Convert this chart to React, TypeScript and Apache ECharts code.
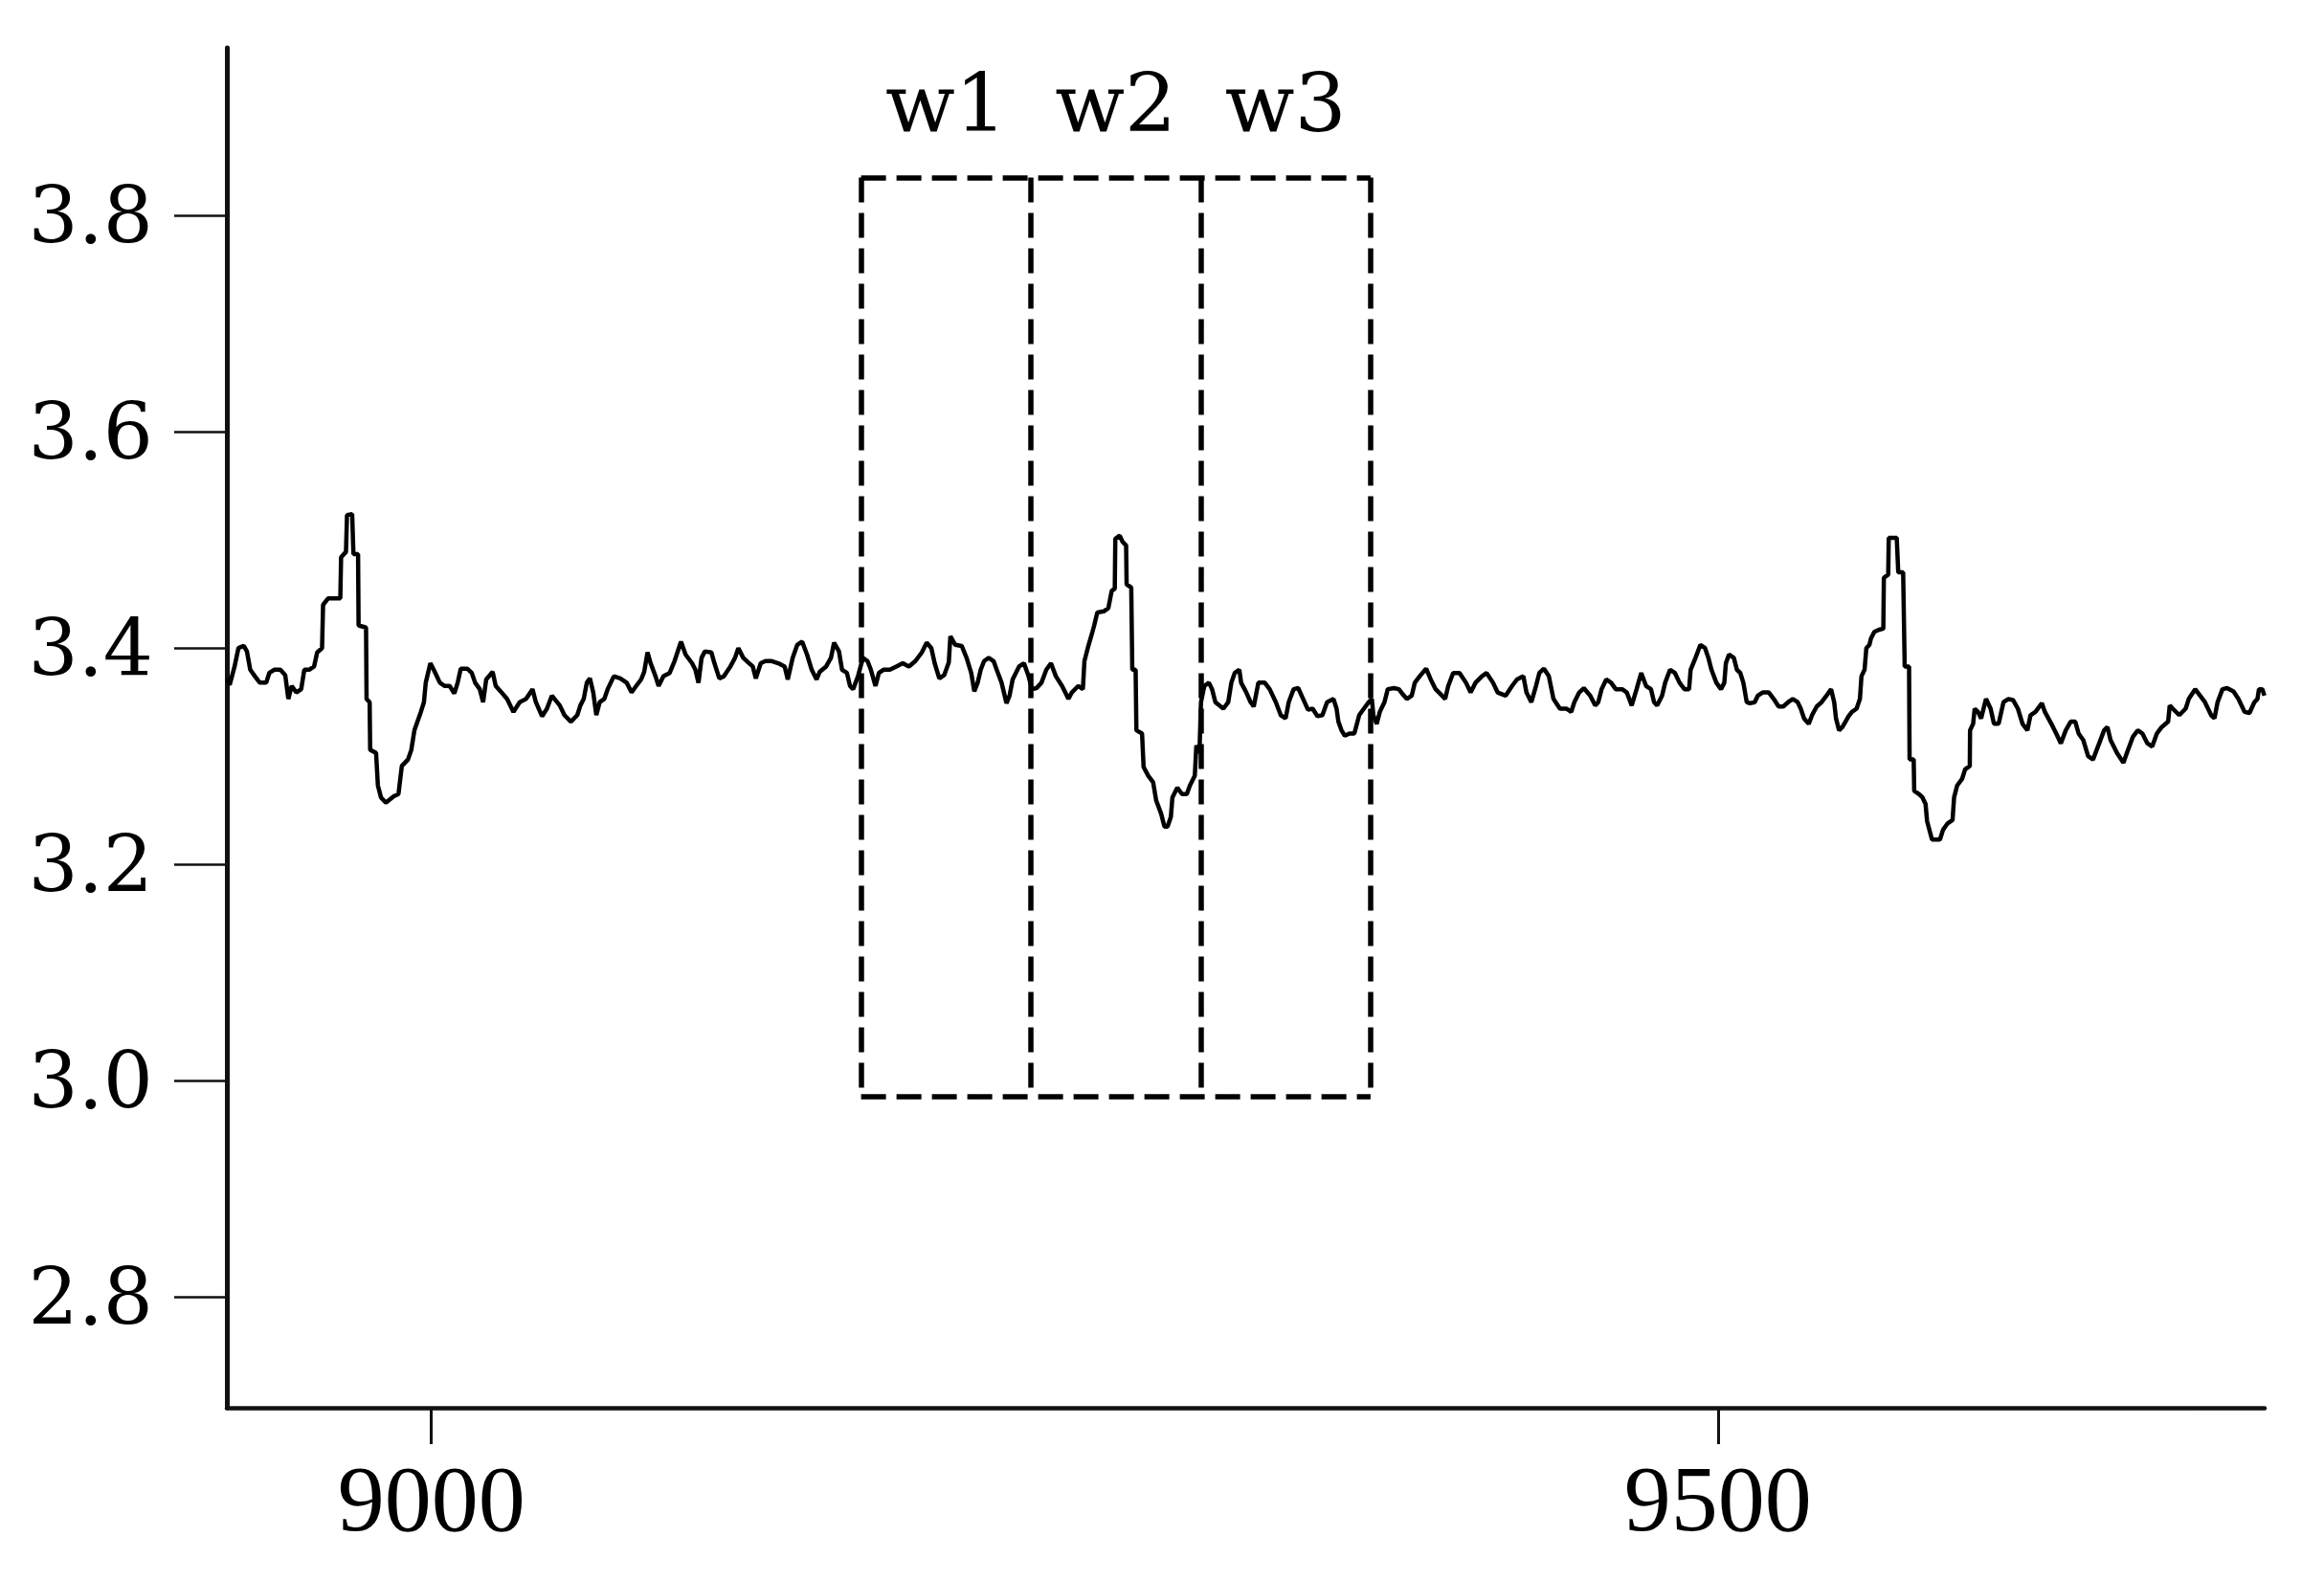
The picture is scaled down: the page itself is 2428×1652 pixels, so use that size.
import React, { useEffect, useRef } from "react";
import * as echarts from "echarts";

// signal trace: [sample index, value]
const signal: [number, number][] = [
  [8920.6, 3.372], [8921.6, 3.366], [8923.5, 3.383], [8925.0, 3.4], [8927.1, 3.402], [8928.3, 3.397],
  [8929.6, 3.38], [8931.4, 3.374], [8933.3, 3.368], [8935.8, 3.368], [8937.0, 3.377], [8938.9, 3.38],
  [8941.3, 3.38], [8943.2, 3.375], [8944.4, 3.353], [8945.7, 3.365], [8947.5, 3.359], [8949.4, 3.362],
  [8950.6, 3.38], [8952.5, 3.38], [8954.4, 3.383], [8955.6, 3.396], [8957.5, 3.4], [8957.9, 3.44],
  [8959.9, 3.446], [8964.6, 3.446], [8964.9, 3.484], [8966.8, 3.489], [8967.2, 3.523], [8969.2, 3.524],
  [8969.7, 3.487], [8971.5, 3.487], [8971.7, 3.421], [8974.6, 3.419], [8974.8, 3.353], [8976.0, 3.35],
  [8976.2, 3.306], [8978.5, 3.303], [8979.2, 3.273], [8980.4, 3.262], [8982.3, 3.257], [8985.4, 3.263],
  [8987.2, 3.265], [8988.5, 3.291], [8990.9, 3.297], [8992.2, 3.306], [8993.4, 3.324], [8995.9, 3.341],
  [8997.1, 3.35], [8997.8, 3.368], [8999.6, 3.386], [9000.9, 3.38], [9003.3, 3.368], [9005.2, 3.365],
  [9007.1, 3.365], [9008.9, 3.358], [9010.2, 3.368], [9011.4, 3.381], [9013.9, 3.381], [9015.7, 3.377],
  [9017.0, 3.368], [9018.8, 3.362], [9020.1, 3.35], [9021.3, 3.371], [9023.8, 3.378], [9025.0, 3.365],
  [9026.9, 3.36], [9029.4, 3.353], [9031.9, 3.341], [9034.3, 3.35], [9036.8, 3.353], [9039.3, 3.362],
  [9040.6, 3.35], [9043.0, 3.337], [9044.9, 3.344], [9046.8, 3.356], [9049.9, 3.347], [9051.7, 3.338],
  [9054.2, 3.332], [9056.7, 3.338], [9057.9, 3.347], [9059.2, 3.353], [9060.4, 3.368], [9061.6, 3.372],
  [9062.9, 3.359], [9064.1, 3.338], [9065.4, 3.35], [9067.2, 3.353], [9068.5, 3.362], [9070.9, 3.374],
  [9073.4, 3.372], [9075.9, 3.368], [9077.8, 3.359], [9079.6, 3.365], [9081.5, 3.371], [9082.7, 3.378],
  [9084.0, 3.396], [9085.2, 3.386], [9087.1, 3.374], [9088.3, 3.365], [9090.2, 3.374], [9092.6, 3.377],
  [9094.5, 3.388], [9097.0, 3.406], [9098.8, 3.394], [9101.3, 3.386], [9102.6, 3.38], [9103.8, 3.368],
  [9105.0, 3.391], [9106.3, 3.397], [9108.8, 3.396], [9110.0, 3.386], [9111.9, 3.372], [9113.7, 3.374],
  [9116.2, 3.383], [9118.0, 3.391], [9119.3, 3.4], [9121.2, 3.391], [9123.0, 3.387], [9124.9, 3.383],
  [9126.1, 3.372], [9128.0, 3.386], [9129.8, 3.388], [9132.3, 3.388], [9134.8, 3.386], [9137.3, 3.383],
  [9138.5, 3.371], [9140.4, 3.391], [9142.2, 3.403], [9144.1, 3.406], [9146.0, 3.394], [9147.8, 3.38],
  [9149.7, 3.371], [9150.9, 3.378], [9153.4, 3.383], [9155.3, 3.391], [9156.5, 3.405], [9158.4, 3.397],
  [9159.6, 3.38], [9161.5, 3.377], [9162.7, 3.365], [9163.9, 3.362], [9165.8, 3.374], [9167.7, 3.391],
  [9169.5, 3.388], [9170.8, 3.38], [9172.6, 3.365], [9173.9, 3.377], [9175.7, 3.38], [9178.2, 3.38],
  [9180.7, 3.383], [9183.2, 3.386], [9185.6, 3.383], [9188.1, 3.388], [9190.6, 3.396], [9192.5, 3.405],
  [9194.3, 3.4], [9195.6, 3.386], [9197.4, 3.372], [9199.3, 3.375], [9201.1, 3.387], [9201.7, 3.411],
  [9203.6, 3.403], [9206.1, 3.402], [9208.0, 3.391], [9209.8, 3.377], [9211.0, 3.36], [9212.3, 3.368],
  [9213.5, 3.38], [9214.8, 3.388], [9216.6, 3.391], [9218.5, 3.388], [9219.7, 3.38], [9221.6, 3.368],
  [9223.5, 3.349], [9224.7, 3.356], [9225.9, 3.371], [9228.4, 3.383], [9230.3, 3.386], [9232.1, 3.374],
  [9233.4, 3.362], [9235.2, 3.363], [9237.1, 3.368], [9239.0, 3.38], [9240.8, 3.386], [9242.7, 3.374],
  [9245.1, 3.365], [9247.6, 3.353], [9248.9, 3.359], [9251.4, 3.365], [9253.2, 3.362], [9253.8, 3.388],
  [9255.1, 3.4], [9256.9, 3.415], [9257.6, 3.421], [9258.8, 3.433], [9261.3, 3.434], [9263.1, 3.437],
  [9264.4, 3.453], [9265.6, 3.455], [9265.8, 3.501], [9267.5, 3.504], [9268.7, 3.498], [9270.0, 3.495],
  [9270.2, 3.459], [9272.0, 3.456], [9272.4, 3.38], [9273.7, 3.38], [9274.0, 3.324], [9276.2, 3.321],
  [9276.8, 3.29], [9278.6, 3.282], [9280.5, 3.276], [9281.7, 3.259], [9283.6, 3.247], [9284.9, 3.235],
  [9286.1, 3.235], [9287.4, 3.244], [9288.0, 3.262], [9289.9, 3.271], [9291.7, 3.265], [9293.6, 3.265],
  [9294.8, 3.273], [9296.7, 3.282], [9297.3, 3.31], [9298.5, 3.303], [9299.1, 3.35], [9300.4, 3.365],
  [9302.2, 3.368], [9303.4, 3.362], [9304.7, 3.35], [9307.8, 3.344], [9309.7, 3.35], [9310.9, 3.368],
  [9312.2, 3.377], [9314.0, 3.38], [9314.7, 3.368], [9316.5, 3.36], [9318.4, 3.35], [9319.6, 3.346],
  [9321.4, 3.368], [9323.9, 3.368], [9325.8, 3.362], [9328.2, 3.35], [9330.1, 3.338], [9332.0, 3.335],
  [9333.2, 3.35], [9335.1, 3.362], [9336.9, 3.363], [9338.8, 3.353], [9340.7, 3.343], [9342.5, 3.344],
  [9344.4, 3.337], [9346.3, 3.338], [9348.1, 3.35], [9350.6, 3.353], [9351.8, 3.344], [9352.5, 3.332],
  [9353.7, 3.324], [9355.0, 3.319], [9356.8, 3.321], [9358.7, 3.321], [9360.6, 3.338], [9362.4, 3.344],
  [9364.3, 3.35], [9365.5, 3.353], [9366.1, 3.338], [9367.4, 3.33], [9368.6, 3.341], [9370.4, 3.35],
  [9371.7, 3.362], [9374.1, 3.363], [9376.0, 3.362], [9377.3, 3.358], [9379.1, 3.353], [9381.0, 3.356],
  [9382.2, 3.368], [9384.1, 3.374], [9386.6, 3.381], [9388.4, 3.371], [9390.3, 3.362], [9392.8, 3.356],
  [9394.0, 3.353], [9395.2, 3.365], [9397.1, 3.377], [9399.6, 3.377], [9402.1, 3.368], [9403.9, 3.359],
  [9405.8, 3.368], [9408.3, 3.374], [9410.1, 3.377], [9412.6, 3.368], [9414.4, 3.359], [9417.5, 3.356],
  [9420.0, 3.365], [9421.9, 3.371], [9424.4, 3.374], [9425.6, 3.359], [9427.5, 3.35], [9429.3, 3.365],
  [9430.6, 3.377], [9432.4, 3.381], [9434.3, 3.374], [9436.1, 3.353], [9438.6, 3.344], [9441.1, 3.344],
  [9443.0, 3.341], [9444.2, 3.35], [9446.1, 3.359], [9447.9, 3.363], [9450.4, 3.356], [9452.3, 3.347],
  [9453.5, 3.35], [9454.8, 3.362], [9456.6, 3.371], [9458.5, 3.368], [9460.3, 3.362], [9462.8, 3.362],
  [9464.6, 3.359], [9466.5, 3.347], [9468.4, 3.362], [9470.2, 3.377], [9472.1, 3.365], [9474.0, 3.362],
  [9475.2, 3.35], [9476.4, 3.347], [9478.3, 3.356], [9479.5, 3.368], [9481.4, 3.38], [9483.3, 3.377],
  [9485.1, 3.368], [9487.0, 3.362], [9488.8, 3.362], [9489.4, 3.38], [9491.3, 3.391], [9493.2, 3.403],
  [9495.0, 3.4], [9496.3, 3.391], [9497.5, 3.38], [9499.4, 3.368], [9501.2, 3.362], [9502.5, 3.368],
  [9503.1, 3.386], [9504.3, 3.394], [9506.2, 3.391], [9507.4, 3.38], [9508.7, 3.377], [9509.9, 3.368],
  [9511.2, 3.35], [9512.4, 3.349], [9514.3, 3.35], [9515.5, 3.356], [9517.4, 3.359], [9519.8, 3.359],
  [9521.7, 3.353], [9523.6, 3.346], [9525.4, 3.346], [9527.3, 3.35], [9529.1, 3.353], [9531.0, 3.35],
  [9532.2, 3.344], [9533.5, 3.335], [9535.3, 3.33], [9536.6, 3.338], [9538.4, 3.346], [9540.3, 3.35],
  [9542.2, 3.356], [9544.0, 3.362], [9545.2, 3.35], [9545.9, 3.335], [9547.1, 3.324], [9548.4, 3.327],
  [9549.6, 3.332], [9550.8, 3.337], [9552.1, 3.341], [9553.9, 3.344], [9555.2, 3.353], [9555.8, 3.374],
  [9557.0, 3.38], [9557.7, 3.4], [9558.9, 3.403], [9559.5, 3.409], [9560.8, 3.415], [9562.6, 3.417],
  [9564.3, 3.418], [9564.5, 3.465], [9566.2, 3.468], [9566.4, 3.502], [9569.5, 3.502], [9570.1, 3.47],
  [9572.0, 3.47], [9572.6, 3.383], [9574.3, 3.383], [9574.5, 3.297], [9576.1, 3.297], [9576.3, 3.268],
  [9578.2, 3.265], [9579.5, 3.262], [9580.7, 3.256], [9581.3, 3.24], [9583.2, 3.223], [9586.3, 3.223],
  [9587.5, 3.232], [9589.3, 3.238], [9591.2, 3.241], [9591.8, 3.262], [9593.0, 3.273], [9594.9, 3.279],
  [9596.1, 3.288], [9597.9, 3.291], [9598.0, 3.324], [9599.2, 3.33], [9599.8, 3.344], [9601.1, 3.341],
  [9602.3, 3.335], [9604.2, 3.353], [9606.0, 3.344], [9607.3, 3.33], [9609.1, 3.33], [9611.0, 3.35],
  [9612.9, 3.353], [9614.7, 3.352], [9616.6, 3.344], [9618.4, 3.33], [9620.3, 3.324], [9621.5, 3.338],
  [9623.4, 3.341], [9625.9, 3.349], [9627.1, 3.341], [9629.6, 3.33], [9631.5, 3.321], [9633.3, 3.312],
  [9635.2, 3.324], [9637.1, 3.332], [9638.9, 3.332], [9640.2, 3.321], [9642.0, 3.315], [9643.9, 3.3],
  [9645.8, 3.297], [9648.2, 3.312], [9650.1, 3.324], [9651.4, 3.327], [9652.6, 3.315], [9655.1, 3.303],
  [9657.6, 3.294], [9659.4, 3.306], [9661.3, 3.318], [9663.2, 3.324], [9665.0, 3.321], [9666.9, 3.312],
  [9668.8, 3.309], [9670.6, 3.321], [9672.5, 3.327], [9675.0, 3.332], [9675.6, 3.347], [9676.8, 3.344],
  [9679.3, 3.338], [9681.8, 3.344], [9683.0, 3.353], [9685.5, 3.362], [9687.4, 3.356], [9689.3, 3.35],
  [9691.7, 3.338], [9693.0, 3.335], [9694.2, 3.35], [9696.1, 3.362], [9697.9, 3.363], [9700.4, 3.36],
  [9702.3, 3.353], [9704.7, 3.341], [9706.6, 3.34], [9708.5, 3.35], [9709.7, 3.353], [9710.3, 3.362],
  [9711.6, 3.362], [9712.4, 3.356],
];

const xTicks = [9000, 9500];
const yTicks = [2.8, 3.0, 3.2, 3.4, 3.6, 3.8];
const windowNames = ["w1", "w2", "w3"];
const windowEdges = [9167, 9233, 9299, 9365];
const windowRange = [2.985, 3.835];
const xRange = [8920.5, 9712.5];
const yRange = [2.6976, 3.955];

export default function App() {
  const ref = useRef<HTMLDivElement>(null);
  useEffect(() => {
    if (!ref.current) return;
    const chart = echarts.init(ref.current, null, { renderer: "svg" });
    const lo = windowRange[0];
    const hi = windowRange[1];
    const first = windowEdges[0];
    const last = windowEdges[windowEdges.length - 1];
    const borderLines: any[] = [
      [{ coord: [first, hi] }, { coord: [last, hi] }],
      [{ coord: [first, lo] }, { coord: [last, lo] }],
      ...windowEdges.map((e) => [{ coord: [e, hi] }, { coord: [e, lo] }]),
    ];
    const option: any = {
      animation: false,
      backgroundColor: "#ffffff",
      grid: { left: 237, right: 62, top: 50, bottom: 181, containLabel: false },
      xAxis: {
        type: "value",
        min: xRange[0],
        max: xRange[1],
        axisLine: { show: true, onZero: false, lineStyle: { color: "#111", width: 4.5 } },
        axisTick: { show: true, length: 38, customValues: xTicks, lineStyle: { color: "#111", width: 3 } },
        axisLabel: {
          customValues: xTicks,
          margin: 46,
          formatter: (v: number) => String(v),
          fontFamily: "Liberation Serif",
          fontSize: 98,
          color: "#000",
        },
        splitLine: { show: false },
      },
      yAxis: {
        type: "value",
        min: yRange[0],
        max: yRange[1],
        axisLine: { show: true, onZero: false, lineStyle: { color: "#111", width: 5 } },
        axisTick: { show: true, length: 55, customValues: yTicks, lineStyle: { color: "#111", width: 2.5 } },
        axisLabel: {
          customValues: yTicks,
          margin: 77,
          formatter: (v: number) => v.toFixed(1),
          fontFamily: "DejaVu Serif",
          fontSize: 82,
          color: "#000",
        },
        splitLine: { show: false },
      },
      series: [
        {
          type: "line",
          data: signal,
          showSymbol: false,
          symbol: "none",
          clip: false,
          lineStyle: { color: "#000", width: 4.5 },
          markArea: {
            silent: true,
            itemStyle: { color: "rgba(0,0,0,0)", borderWidth: 0 },
            label: {
              show: true,
              position: "top",
              distance: 36,
              fontFamily: "DejaVu Serif",
              fontSize: 85,
              color: "#000",
            },
            data: windowNames.map((n, i) => [
              { name: n, coord: [windowEdges[i], hi] },
              { coord: [windowEdges[i + 1], lo] },
            ]),
          },
          markLine: {
            silent: true,
            symbol: ["none", "none"],
            label: { show: false },
            lineStyle: { color: "#000", width: 5.5, type: [26, 11], cap: "butt" },
            emphasis: { disabled: true },
            data: borderLines,
          },
        },
      ],
    };
    chart.setOption(option);
    return () => chart.dispose();
  }, []);
  return (
    <div
      ref={ref}
      style={{ position: "absolute", left: 0, top: 0, width: 2428, height: 1652, background: "#fff" }}
    />
  );
}
